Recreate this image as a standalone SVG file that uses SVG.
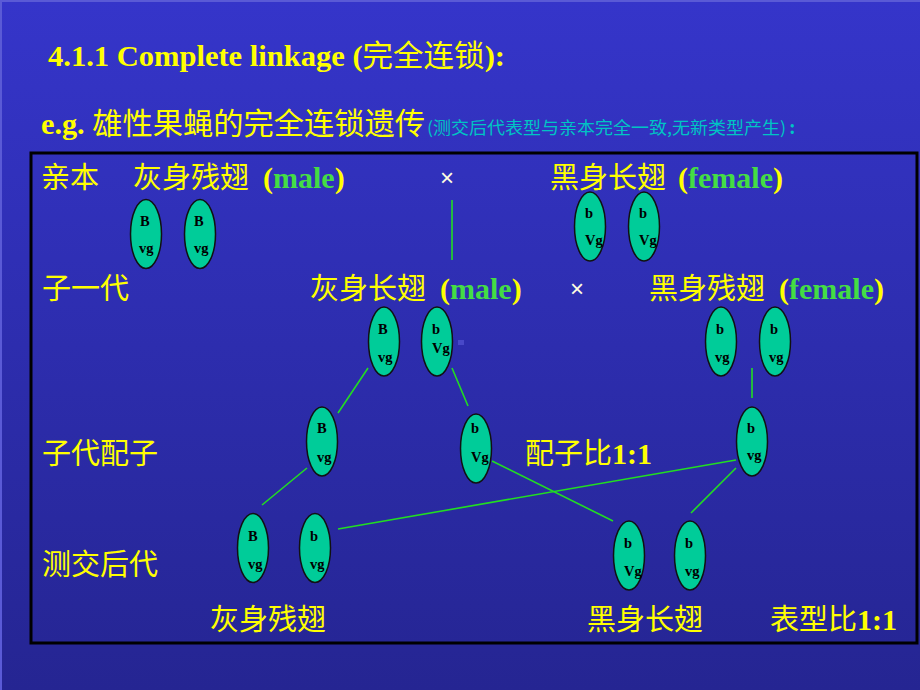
<svg xmlns="http://www.w3.org/2000/svg" width="920" height="690" viewBox="0 0 920 690">
<defs>
<linearGradient id="bg" x1="0" y1="0" x2="0" y2="1">
<stop offset="0" stop-color="#3535ca"/>
<stop offset="1" stop-color="#252592"/>
</linearGradient>
</defs>
<style>
.cjk{font-family:"Noto Sans CJK SC","Noto Sans",sans-serif;fill:#ffff00;font-size:29px}
.lat{font-family:"Liberation Serif","Noto Sans CJK SC",serif;font-weight:bold;fill:#ffff00;font-size:30px}
.grn{fill:#44dd44}
.chr{fill:#00cc99;stroke:#111;stroke-width:1.5}
.g{font-family:"Liberation Serif",serif;font-weight:bold;font-size:14.5px;fill:#000}
.ln{stroke:#22dd22;stroke-width:1.6;fill:none}
</style>
<rect x="0" y="0" width="920" height="690" fill="url(#bg)"/>
<polyline points="1,690 1,1 920,1" fill="none" stroke="#5a5ad6" stroke-width="2"/>
<text class="lat" x="48" y="66" font-size="31" textLength="457" lengthAdjust="spacingAndGlyphs">4.1.1 Complete linkage (<tspan font-family="Noto Sans CJK SC, sans-serif" font-weight="normal">完全连锁</tspan>):</text>
<text class="lat" x="41" y="134" font-size="30" textLength="384" lengthAdjust="spacingAndGlyphs">e.g. <tspan font-family="Noto Sans CJK SC, sans-serif" font-weight="normal">雄性果蝇的完全连锁遗传</tspan></text>
<text x="427" y="134" font-family="Noto Sans CJK SC, sans-serif" font-size="17" fill="#00c4c4" textLength="359" lengthAdjust="spacingAndGlyphs">(测交后代表型与亲本完全一致,无新类型产生)</text>
<text x="789" y="134" font-family="Liberation Serif, serif" font-weight="bold" font-size="20" fill="#00c4c4">:</text>
<rect x="31" y="153" width="886" height="490" fill="none" stroke="#000" stroke-width="3"/>
<g id="labels">
<text class="cjk" x="41" y="188">亲本</text>
<text class="cjk" x="42" y="299">子一代</text>
<text class="cjk" x="42" y="464">子代配子</text>
<text class="cjk" x="42" y="575">测交后代</text>
</g>
<g id="p-male-label"><text class="cjk" x="133" y="188">灰身残翅</text><text class="lat" x="263" y="188">(<tspan class="grn">male</tspan>)</text></g>
<g id="p-cross"><text x="447" y="186" text-anchor="middle" font-family="Liberation Sans, sans-serif" font-size="24" fill="#ffffe0">×</text></g>
<g id="p-female-label"><text class="cjk" x="550" y="188">黑身长翅</text><text class="lat" x="678" y="188">(<tspan class="grn">female</tspan>)</text></g>
<g id="f1-male-label"><text class="cjk" x="310" y="299">灰身长翅</text><text class="lat" x="440" y="299">(<tspan class="grn">male</tspan>)</text></g>
<g id="f1-cross"><text x="577" y="297" text-anchor="middle" font-family="Liberation Sans, sans-serif" font-size="24" fill="#ffffe0">×</text></g>
<g id="f1-female-label"><text class="cjk" x="649" y="299">黑身残翅</text><text class="lat" x="779" y="299">(<tspan class="grn">female</tspan>)</text></g>
<g id="ratio1"><text class="cjk" x="525" y="464">配子比<tspan class="lat">1:1</tspan></text></g>
<g id="pheno"><text class="cjk" x="210" y="630">灰身残翅</text><text class="cjk" x="587" y="630">黑身长翅</text><text class="cjk" x="770" y="630">表型比<tspan class="lat">1:1</tspan></text></g>
<g id="connectors">
<line class="ln" x1="452" y1="200" x2="452" y2="260"/>
<line class="ln" x1="368" y1="368" x2="338" y2="413"/>
<line class="ln" x1="452" y1="368" x2="468" y2="406"/>
<line class="ln" x1="752" y1="368" x2="752" y2="398"/>
<line class="ln" x1="307" y1="468" x2="262" y2="505"/>
<line class="ln" x1="492" y1="461" x2="613" y2="521"/>
<line class="ln" x1="736" y1="460" x2="338" y2="529"/>
<line class="ln" x1="736" y1="468" x2="691" y2="513"/>
</g>
<g id="pm1"><ellipse class="chr" cx="146" cy="234" rx="15.5" ry="34.5"/><text class="g" x="140" y="226">B</text><text class="g" x="139" y="253">vg</text></g>
<g id="pm2"><ellipse class="chr" cx="200" cy="234" rx="15.5" ry="34.5"/><text class="g" x="194" y="226">B</text><text class="g" x="194" y="253">vg</text></g>
<g id="pf1"><ellipse class="chr" cx="590" cy="226.5" rx="15.5" ry="34.5"/><text class="g" x="585" y="218">b</text><text class="g" x="585" y="245">Vg</text></g>
<g id="pf2"><ellipse class="chr" cx="644" cy="226.5" rx="15.5" ry="34.5"/><text class="g" x="639" y="218">b</text><text class="g" x="639" y="245">Vg</text></g>
<g id="f1m1"><ellipse class="chr" cx="384" cy="341.5" rx="15.5" ry="34.5"/><text class="g" x="378" y="334">B</text><text class="g" x="378" y="362">vg</text></g>
<g id="f1m2"><ellipse class="chr" cx="437" cy="341.5" rx="15.5" ry="34.5"/><text class="g" x="432" y="334">b</text><text class="g" x="432" y="353">Vg</text></g>
<rect x="458" y="340" width="6" height="5" fill="#4848c8"/>
<g id="f1f1"><ellipse class="chr" cx="721" cy="341.5" rx="15.5" ry="34.5"/><text class="g" x="716" y="334">b</text><text class="g" x="715" y="362">vg</text></g>
<g id="f1f2"><ellipse class="chr" cx="775" cy="341.5" rx="15.5" ry="34.5"/><text class="g" x="770" y="334">b</text><text class="g" x="769" y="362">vg</text></g>
<g id="gm1"><ellipse class="chr" cx="322" cy="441.5" rx="15.5" ry="34.5"/><text class="g" x="317" y="433">B</text><text class="g" x="317" y="462">vg</text></g>
<g id="gm2"><ellipse class="chr" cx="476" cy="448.5" rx="15.5" ry="34.5"/><text class="g" x="471" y="433">b</text><text class="g" x="471" y="462">Vg</text></g>
<g id="gf"><ellipse class="chr" cx="752" cy="441.5" rx="15.5" ry="34.5"/><text class="g" x="747" y="433">b</text><text class="g" x="747" y="460">vg</text></g>
<g id="t1"><ellipse class="chr" cx="253" cy="548" rx="15.5" ry="34.5"/><text class="g" x="248" y="541">B</text><text class="g" x="248" y="569">vg</text></g>
<g id="t2"><ellipse class="chr" cx="315" cy="548" rx="15.5" ry="34.5"/><text class="g" x="310" y="541">b</text><text class="g" x="310" y="569">vg</text></g>
<g id="t3"><ellipse class="chr" cx="629" cy="555.5" rx="15.5" ry="34.5"/><text class="g" x="624" y="548">b</text><text class="g" x="624" y="576">Vg</text></g>
<g id="t4"><ellipse class="chr" cx="690" cy="555.5" rx="15.5" ry="34.5"/><text class="g" x="685" y="548">b</text><text class="g" x="685" y="576">vg</text></g>
</svg>
